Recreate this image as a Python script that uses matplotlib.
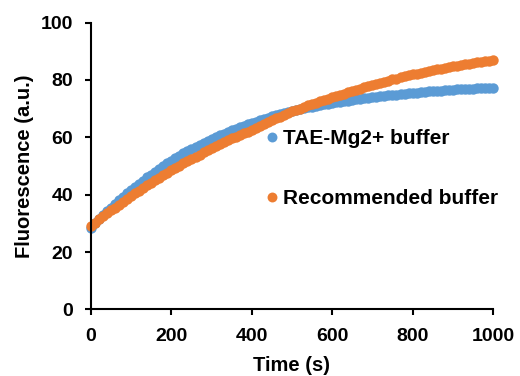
import numpy as np
import matplotlib
matplotlib.use("Agg")
import matplotlib.pyplot as plt

plt.rcParams['font.family'] = ['Liberation Sans', 'DejaVu Sans']
plt.rcParams['font.weight'] = 'bold'

# time points (s), one reading every 10 s
time_s = np.arange(0, 1001, 10)

# TAE-Mg2+ buffer (blue)
tae_mg = [28.5, 30.0, 31.4, 32.8, 34.2, 35.5,
          36.8, 38.0, 39.3, 40.5, 41.6,
          42.7, 43.8, 44.9, 46.0, 47.0,
          48.0, 49.0, 49.9, 50.9, 51.8,
          52.7, 53.5, 54.4, 55.2, 56.0,
          56.7, 57.4, 58.1, 58.8, 59.5,
          60.1, 60.7, 61.3, 61.9, 62.5,
          63.0, 63.5, 64.0, 64.5, 65.0,
          65.5, 66.0, 66.4, 66.9, 67.3,
          67.7, 68.1, 68.5, 68.8, 69.2,
          69.5, 69.8, 70.1, 70.4, 70.7,
          71.0, 71.2, 71.5, 71.7, 72.0,
          72.2, 72.4, 72.6, 72.8, 73.0,
          73.2, 73.4, 73.6, 73.8, 74.0,
          74.2, 74.3, 74.5, 74.6, 74.8,
          74.9, 75.1, 75.2, 75.4, 75.5,
          75.6, 75.7, 75.9, 76.0, 76.1,
          76.2, 76.3, 76.4, 76.5, 76.6,
          76.7, 76.8, 76.8, 76.9, 77.0,
          77.1, 77.1, 77.2, 77.2, 77.3]

# Recommended buffer (orange)
recommended = [29.2, 30.3, 31.4, 32.4, 33.5, 34.5,
               35.5, 36.5, 37.5, 38.5, 39.5,
               40.5, 41.4, 42.4, 43.3, 44.2,
               45.1, 45.9, 46.8, 47.7, 48.5,
               49.3, 50.1, 50.9, 51.7, 52.5,
               53.3, 54.0, 54.8, 55.5, 56.2,
               56.9, 57.6, 58.3, 58.9, 59.6,
               60.2, 60.8, 61.4, 62.0, 62.6,
               63.3, 64.0, 64.7, 65.4, 66.0,
               66.6, 67.2, 67.8, 68.4, 69.0,
               69.5, 70.0, 70.6, 71.1, 71.6,
               72.1, 72.5, 73.0, 73.4, 73.9,
               74.3, 74.8, 75.2, 75.7, 76.1,
               76.5, 77.0, 77.4, 77.8, 78.2,
               78.6, 79.0, 79.4, 79.8, 80.2,
               80.5, 80.9, 81.2, 81.6, 81.9,
               82.2, 82.5, 82.8, 83.1, 83.4,
               83.7, 83.9, 84.2, 84.4, 84.7,
               84.9, 85.2, 85.4, 85.7, 85.9,
               86.1, 86.3, 86.5, 86.7, 86.9]

labels = ["TAE-Mg2+ buffer", "Recommended buffer"]
blue = "#5B9BD5"
orange = "#ED7D31"

fig = plt.figure(figsize=(5.2, 3.76), dpi=100)
ax = fig.add_axes([0.175, 0.177, 0.773, 0.763])

ax.plot(time_s, tae_mg, 'o', color=blue, markersize=7.5, markeredgewidth=0,
        clip_on=False, label=labels[0])
ax.plot(time_s, recommended, 'o', color=orange, markersize=7.5, markeredgewidth=0,
        clip_on=False, label=labels[1])

ax.set_xlim(0, 1000)
ax.set_ylim(0, 100)
ax.set_xticks([0, 200, 400, 600, 800, 1000])
ax.set_yticks([0, 20, 40, 60, 80, 100])

for s in ['top', 'right']:
    ax.spines[s].set_visible(False)
for s in ['left', 'bottom']:
    ax.spines[s].set_linewidth(1.5)
ax.tick_params(direction='out', length=4, width=1.5, labelsize=14, pad=9)

ax.set_xlabel("Time (s)", fontsize=14.5, fontweight='bold', labelpad=8)
ax.set_ylabel("Fluorescence (a.u.)", fontsize=14.5, fontweight='bold', labelpad=5)

ax.legend(loc='upper left', bbox_to_anchor=(0.413, 0.664), frameon=False,
          prop={'size': 15, 'weight': 'bold'}, handlelength=0.4,
          handletextpad=0.35, labelspacing=1.95, markerscale=0.95, borderpad=0)

fig.savefig("out.png", dpi=100)
